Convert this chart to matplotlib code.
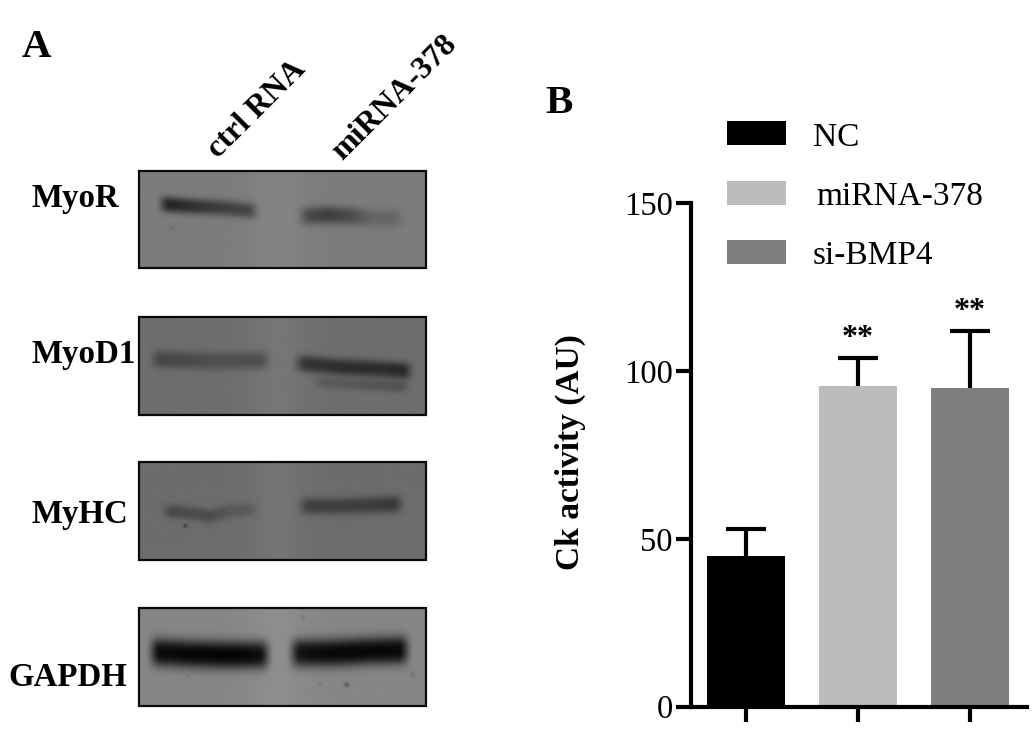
import numpy as np
import matplotlib
matplotlib.use("Agg")
import matplotlib.pyplot as plt
from matplotlib.patches import Rectangle

plt.rcParams['font.family'] = ['Liberation Serif', 'DejaVu Serif']

W, H = 1034, 730

# Panel B data
groups = ['NC', 'miRNA-378', 'si-BMP4']
means = [45.0, 95.6, 95.0]
errors = [8.0, 8.2, 16.8]
colors = ['#000000', '#bcbcbc', '#7e7e7e']
y_ticks = [0, 50, 100, 150]
stars = ['', '**', '**']

# Panel A data
proteins = ['MyoR', 'MyoD1', 'MyHC', 'GAPDH']
lanes = ['ctrl RNA', 'miRNA-378']
panel_boxes = [(139, 171, 426, 268), (139, 317, 426, 415), (139, 462, 426, 560), (139, 608, 426, 706)]
panel_bg = [124, 110, 108, 134]
# band: x control points, y centre points, darkness points, half thickness
myor_bands = [
    ([162, 190, 225, 255], [204, 206, 208, 211], [90, 76, 60, 56], 8.0),
    ([302, 330, 352, 372, 400], [216, 215, 216, 218, 218], [50, 62, 48, 22, 24], 9.0),
]
myod_bands = [
    ([153, 180, 215, 267], [359, 360, 361, 360], [38, 38, 30, 38], 9.0),
    ([298, 340, 380, 410], [363, 367, 369, 371], [58, 64, 66, 70], 8.5),
    ([317, 360, 407], [382, 385, 387], [18, 22, 28], 6.0),
]
myhc_bands = [
    ([165, 190, 210, 230, 255], [511, 513, 516, 511, 509], [36, 32, 32, 20, 20], 7.0),
    ([302, 340, 370, 400], [506, 506, 505, 504], [46, 44, 46, 54], 8.5),
]
gapdh_bands = [
    ([152, 190, 230, 267], [652, 654, 655, 655], [122, 126, 130, 124], 14.0),
    ([293, 330, 370, 407], [653, 653, 651, 650], [118, 126, 126, 124], 14.0),
]
all_bands = [myor_bands, myod_bands, myhc_bands, gapdh_bands]
specks = [(185, 526, 2.0, 50), (347, 685, 2.5, 50), (320, 684, 1.8, 16), (188, 676, 2, 16),
          (303, 617, 2, 22), (413, 675, 2.5, 16), (172, 228, 2.5, 14)]

fig = plt.figure(figsize=(W / 100, H / 100), dpi=100, facecolor='white')

# Pixel overlay for panel A, legend and letters
ov = fig.add_axes([0, 0, 1, 1])
ov.set_axis_off()


def blot(box, bg, bands):
    x0, y0, x1, y1 = box
    xs = np.arange(x0, x1 + 1)
    ys = np.arange(y0, y1 + 1)
    X, Y = np.meshgrid(xs, ys)
    img = np.full(X.shape, float(bg))
    # paler gutter between the two lanes
    img += 8 * np.exp(-((X - 277) / 30.0) ** 2)
    for bx, by, bd, t in bands:
        yc = np.interp(xs, bx, by)
        dk = np.interp(xs, bx, bd)
        fade = np.clip((xs - bx[0] + 8) / 16, 0, 1) * np.clip((bx[-1] + 8 - xs) / 16, 0, 1)
        fade = fade * fade * (3 - 2 * fade)
        img -= (dk * fade)[None, :] * np.exp(-np.abs((Y - yc[None, :]) / t) ** 2.6)
    for sx, sy, r, d in specks:
        if x0 < sx < x1 and y0 < sy < y1:
            img -= d * np.exp(-(((X - sx) ** 2 + (Y - sy) ** 2) / r ** 2))
    ov.imshow(np.clip(img, 0, 255), cmap='gray', vmin=0, vmax=255, extent=(x0, x1, y1, y0),
              aspect='auto', interpolation='bilinear', zorder=1)
    ov.add_patch(Rectangle((x0, y0), x1 - x0, y1 - y0, fill=False, ec='#0a0a0a', lw=1.6, zorder=2))


for box, bg, bands in zip(panel_boxes, panel_bg, all_bands):
    blot(box, bg, bands)

ov.set_xlim(0, W)
ov.set_ylim(H, 0)

ov.text(22, 57, 'A', fontsize=29.5, fontweight='bold', ha='left', va='baseline')
ov.text(545, 113, 'B', fontsize=29.5, fontweight='bold', ha='left', va='baseline')

label_pos = [(31, 198), (31, 355), (31, 515), (8, 677)]
for name, (lx, ly) in zip(proteins, label_pos):
    ov.text(lx, ly, name, fontsize=23.7, fontweight='bold', ha='left', va='center')

lane_pos = [(213, 154), (337, 156)]
for name, (lx, ly) in zip(lanes, lane_pos):
    ov.text(lx, ly, name, fontsize=23, fontweight='bold', rotation=45, rotation_mode='anchor',
            ha='left', va='center')

ov.text(570, 452, 'Ck activity (AU)', fontsize=24, fontweight='bold', rotation=90, ha='center', va='center')

swatches = [121, 181, 240]
legend_text_x = [813, 816, 813]
legend_text_y = [146, 205, 264]
for c, g, sy, tx, ty in zip(colors, groups, swatches, legend_text_x, legend_text_y):
    ov.add_patch(Rectangle((727, sy), 59, 23.5, fc=c, ec='none'))
    ov.text(tx, ty, g, fontsize=24, ha='left', va='baseline')

# Panel B bar chart, placed to pixel positions
left, right, bottom, top = 691, 1027, 706.7, 203.3
ax = fig.add_axes([left / W, 1 - bottom / H, (right - left) / W, (bottom - top) / H])
ax.patch.set_alpha(0)
pos = np.arange(len(means))
ax.bar(pos, means, width=0.705, color=colors, zorder=2)
_, caps, _ = ax.errorbar(pos, means, yerr=[np.zeros(3), errors], fmt='none', ecolor='black',
                         elinewidth=3, capsize=14.5, capthick=3, zorder=1)
caps[0].set_visible(False)
for p, m, e, s in zip(pos, means, errors, stars):
    if s:
        ax.annotate(s, (p, m + e), xytext=(0, 4), textcoords='offset points', ha='center', va='bottom',
                    fontsize=23, fontweight='bold')
ax.set_xlim(-0.491, 2.509)
ax.set_ylim(0, 150)
ax.set_xticks(pos)
ax.set_xticklabels([])
ax.set_yticks(y_ticks)
ax.tick_params(axis='y', length=11, width=3, labelsize=23.5, pad=2)
ax.tick_params(axis='x', length=11, width=3)
for s in ['top', 'right']:
    ax.spines[s].set_visible(False)
for s in ['left', 'bottom']:
    ax.spines[s].set_linewidth(3)

fig.savefig('out.png', dpi=100, facecolor='white')
